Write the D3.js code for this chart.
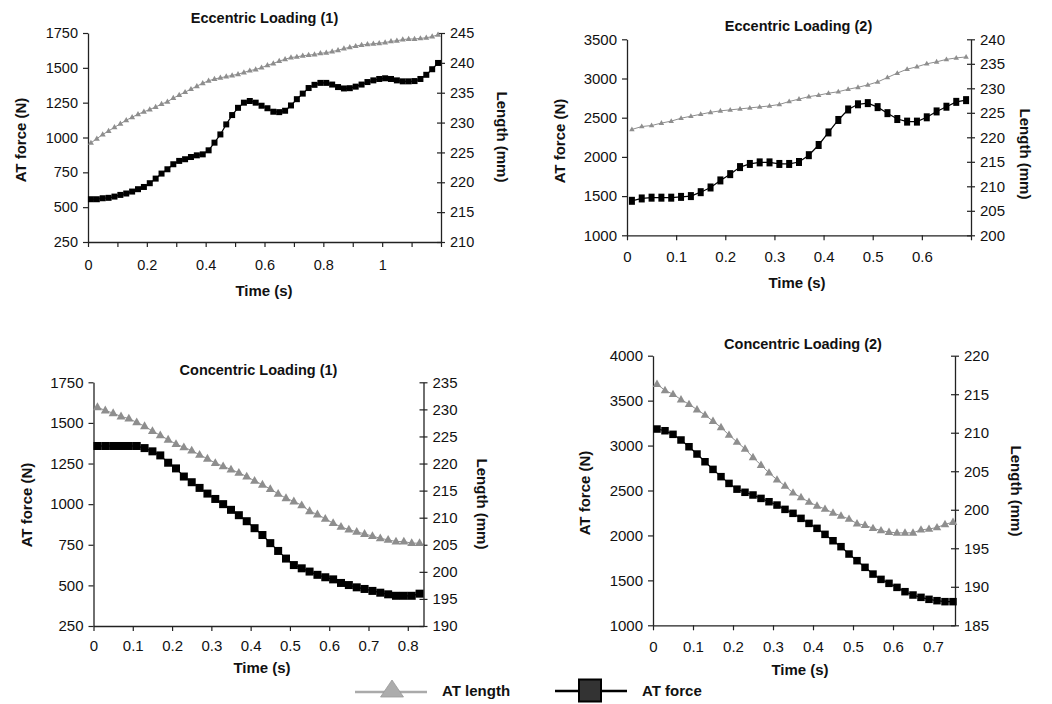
<!DOCTYPE html>
<html>
<head>
<meta charset="utf-8">
<script src="https://cdn.jsdelivr.net/npm/d3@7"></script>
<style>
  body { margin: 0; background: #fff; }
  svg text { font-family: "Liberation Sans", Arial, Helvetica, sans-serif; fill: #111; }
</style>
</head>
<body>
<svg id="fig" width="1052" height="704"></svg>
<script>
// ---- Eccentric loading (1) ----
const ecc1Time = [0.01,0.03,0.05,0.07,0.09,0.11,0.13,0.15,0.17,0.19,0.21,0.23,0.25,0.27,0.29,0.31,0.33,0.35,0.37,0.39,
  0.41,0.43,0.45,0.47,0.49,0.51,0.53,0.55,0.57,0.59,0.61,0.63,0.65,0.67,0.69,0.71,0.73,0.75,0.77,0.79,
  0.81,0.83,0.85,0.87,0.89,0.91,0.93,0.95,0.97,0.99,1.01,1.03,1.05,1.07,1.09,1.11,1.13,1.15,1.17,1.19];
const ecc1Force = [557,557,564,567,576,588,598,612,629,645,672,705,741,772,808,832,844,860,872,879,
  908,963,1022,1094,1161,1213,1250,1262,1250,1228,1210,1185,1182,1192,1230,1275,1315,1355,1378,1392,
  1392,1380,1362,1352,1354,1365,1380,1398,1410,1420,1425,1420,1410,1403,1403,1405,1420,1450,1490,1535];
const ecc1Length = [226.6,227.3,228.0,228.6,229.2,229.8,230.4,230.9,231.4,231.8,232.2,232.6,233.1,233.5,234.1,234.6,235.1,235.6,236.1,236.6,
  237.0,237.3,237.5,237.7,237.9,238.1,238.4,238.7,238.9,239.2,239.6,239.9,240.3,240.6,240.9,241.0,241.2,241.3,241.4,241.6,
  241.7,241.9,242.1,242.4,242.6,242.8,243.0,243.1,243.2,243.3,243.4,243.6,243.7,243.9,244.0,244.0,244.1,244.2,244.4,244.7];
const ecc1TimeTicks = [0,0.1,0.2,0.3,0.4,0.5,0.6,0.7,0.8,0.9,1.0,1.1,1.2];
const ecc1TimeLabels = [0,0.2,0.4,0.6,0.8,1.0];
const ecc1ForceTicks = [250,500,750,1000,1250,1500,1750];
const ecc1LengthTicks = [210,215,220,225,230,235,240,245];

// ---- Eccentric loading (2) ----
const ecc2Time = [0.01,0.03,0.05,0.07,0.09,0.11,0.13,0.15,0.17,0.19,0.21,0.23,0.25,0.27,0.29,0.31,0.33,0.35,
  0.37,0.39,0.41,0.43,0.45,0.47,0.49,0.51,0.53,0.55,0.57,0.59,0.61,0.63,0.65,0.67,0.69];
const ecc2Force = [1440,1470,1480,1480,1480,1490,1500,1550,1610,1700,1780,1870,1910,1930,1930,1910,1910,1935,
  2022,2152,2312,2471,2605,2671,2686,2635,2558,2483,2450,2450,2505,2580,2640,2702,2724];
const ecc2Length = [221.6,222.2,222.4,222.9,223.3,223.9,224.3,224.7,225.1,225.4,225.6,225.8,226.0,226.2,226.4,226.7,227.3,227.8,
  228.3,228.6,229.0,229.3,229.8,230.2,230.7,231.3,232.2,233.1,233.9,234.4,235.0,235.4,235.9,236.2,236.4];
const ecc2TimeTicks = [0,0.1,0.2,0.3,0.4,0.5,0.6,0.7];
const ecc2TimeLabels = [0,0.1,0.2,0.3,0.4,0.5,0.6];
const ecc2ForceTicks = [1000,1500,2000,2500,3000,3500];
const ecc2LengthTicks = [200,205,210,215,220,225,230,235,240];

// ---- Concentric loading (1) ----
const con1Time = [0.01,0.03,0.05,0.07,0.09,0.11,0.13,0.15,0.17,0.19,0.21,0.23,0.25,0.27,0.29,0.31,0.33,0.35,0.37,0.39,0.41,
  0.43,0.45,0.47,0.49,0.51,0.53,0.55,0.57,0.59,0.61,0.63,0.65,0.67,0.69,0.71,0.73,0.75,0.77,0.79,0.81,0.83];
const con1Force = [1358,1358,1358,1358,1358,1358,1345,1325,1300,1255,1220,1170,1135,1100,1065,1032,1000,965,932,895,852,
  810,760,712,665,625,605,585,565,550,537,515,502,488,478,466,455,445,436,436,436,449];
const con1Length = [230.4,229.8,229.3,228.7,228.3,227.6,226.9,226.0,225.2,224.4,223.6,223.0,222.4,221.6,220.9,220.1,219.5,218.9,218.3,217.6,216.8,
  216.1,215.3,214.4,213.6,213.0,212.3,211.2,210.6,209.8,209.0,208.3,207.8,207.4,207.0,206.6,206.2,205.9,205.6,205.6,205.3,205.3];
const con1TimeTicks = [0,0.1,0.2,0.3,0.4,0.5,0.6,0.7,0.8];
const con1TimeLabels = [0,0.1,0.2,0.3,0.4,0.5,0.6,0.7,0.8];
const con1ForceTicks = [250,500,750,1000,1250,1500,1750];
const con1LengthTicks = [190,195,200,205,210,215,220,225,230,235];

// ---- Concentric loading (2) ----
const con2Time = [0.01,0.03,0.05,0.07,0.09,0.11,0.13,0.15,0.17,0.19,0.21,0.23,0.25,0.27,0.29,0.31,0.33,0.35,0.37,
  0.39,0.41,0.43,0.45,0.47,0.49,0.51,0.53,0.55,0.57,0.59,0.61,0.63,0.65,0.67,0.69,0.71,0.73,0.75];
const con2Force = [3184,3165,3125,3062,2987,2906,2820,2735,2654,2579,2515,2480,2450,2412,2375,2338,2290,2246,2190,
  2134,2079,2012,1941,1875,1793,1719,1645,1570,1511,1467,1422,1374,1337,1311,1289,1274,1263,1263];
const con2Length = [216.3,215.5,215.0,214.3,213.7,213.0,212.3,211.5,210.7,209.7,208.8,207.9,206.8,205.8,204.8,203.9,203.1,202.2,201.6,
  201.0,200.5,200.1,199.6,199.2,198.8,198.2,198.0,197.6,197.3,197.1,197.0,197.0,197.0,197.4,197.5,197.7,198.1,198.4];
const con2TimeTicks = [0,0.1,0.2,0.3,0.4,0.5,0.6,0.7];
const con2TimeLabels = [0,0.1,0.2,0.3,0.4,0.5,0.6,0.7];
const con2ForceTicks = [1000,1500,2000,2500,3000,3500,4000];
const con2LengthTicks = [185,190,195,200,205,210,215,220];

const seriesNames = ["AT length", "AT force"];

// Panel layout and styling
const panels = [
  { title: "Eccentric Loading (1)", time: ecc1Time, force: ecc1Force, length: ecc1Length,
    xMax: 1.2, xTicks: ecc1TimeTicks, xLabels: ecc1TimeLabels,
    fDomain: [250, 1750], fTicks: ecc1ForceTicks, lDomain: [210, 245], lTicks: ecc1LengthTicks,
    box: { l: 88, r: 441, t: 33, b: 242 }, fs: 14.5, xPad: 13,
    titlePos: [264.5, 22.5], xLabPos: [264, 295.5], yLabPos: [21, 140], rLabPos: [502, 137],
    sq: [6, 6], tri: 6 },
  { title: "Eccentric Loading (2)", time: ecc2Time, force: ecc2Force, length: ecc2Length,
    xMax: 0.7, xTicks: ecc2TimeTicks, xLabels: ecc2TimeLabels,
    fDomain: [1000, 3500], fTicks: ecc2ForceTicks, lDomain: [200, 240], lTicks: ecc2LengthTicks,
    box: { l: 627, r: 971, t: 39.3, b: 235.3 }, fs: 15, xPad: 11.5,
    titlePos: [798.5, 30.5], xLabPos: [797, 288], yLabPos: [560, 141], rLabPos: [1025, 154],
    sq: [6, 8], tri: 5.5 },
  { title: "Concentric Loading (1)", time: con1Time, force: con1Force, length: con1Length,
    xMax: 0.84, xTicks: con1TimeTicks, xLabels: con1TimeLabels,
    fDomain: [250, 1750], fTicks: con1ForceTicks, lDomain: [190, 235], lTicks: con1LengthTicks,
    box: { l: 93.5, r: 423.5, t: 382.3, b: 626 }, fs: 15, xPad: 9.5,
    titlePos: [258.5, 374.5], xLabPos: [262, 673], yLabPos: [27, 505], rLabPos: [482, 504],
    sq: [8, 8], tri: 9 },
  { title: "Concentric Loading (2)", time: con2Time, force: con2Force, length: con2Length,
    xMax: 0.755, xTicks: con2TimeTicks, xLabels: con2TimeLabels,
    fDomain: [1000, 4000], fTicks: con2ForceTicks, lDomain: [185, 220], lTicks: con2LengthTicks,
    box: { l: 653, r: 955, t: 355.7, b: 625.3 }, fs: 15, xPad: 11.5,
    titlePos: [803, 348.7], xLabPos: [800, 675], yLabPos: [585, 493], rLabPos: [1016, 491],
    sq: [7.5, 7.5], tri: 8.5 }
];

const svg = d3.select("#fig");
const axisColor = "#222";
const lengthGrey = "#8e8e8e";
const fmtTime = d => String(+d.toFixed(1));
const inList = (list, d) => list.some(v => Math.abs(v - d) < 1e-9);

function styleAxis(g, fs) {
  g.attr("font-size", null).attr("font-family", null);
  g.select(".domain").attr("stroke", axisColor).attr("stroke-width", 1.3);
  g.selectAll(".tick line").attr("stroke", axisColor).attr("stroke-width", 1.2);
  g.selectAll(".tick text").style("font-size", fs + "px").attr("fill", "#111");
}

function triPath(w) {
  const h = w * 0.87;
  return `M0,${-h * 0.62}L${w / 2},${h * 0.38}L${-w / 2},${h * 0.38}Z`;
}

panels.forEach(p => {
  const g = svg.append("g");
  const x = d3.scaleLinear().domain([0, p.xMax]).range([p.box.l, p.box.r]);
  const yF = d3.scaleLinear().domain(p.fDomain).range([p.box.b, p.box.t]);
  const yL = d3.scaleLinear().domain(p.lDomain).range([p.box.b, p.box.t]);

  // time axis
  const gx = g.append("g").attr("transform", `translate(0,${p.box.b})`)
    .call(d3.axisBottom(x).tickValues(p.xTicks)
      .tickFormat(d => inList(p.xLabels, d) ? fmtTime(d) : "")
      .tickSize(5).tickSizeOuter(0).tickPadding(p.xPad));
  styleAxis(gx, p.fs);

  // force axis (left)
  const gl = g.append("g").attr("transform", `translate(${p.box.l},0)`)
    .call(d3.axisLeft(yF).tickValues(p.fTicks).tickFormat(d3.format("d"))
      .tickSize(5).tickSizeOuter(0).tickPadding(5));
  styleAxis(gl, p.fs);

  // length axis (right), ticks crossing the line
  const gr = g.append("g").attr("transform", `translate(${p.box.r},0)`)
    .call(d3.axisRight(yL).tickValues(p.lTicks).tickFormat(d3.format("d"))
      .tickSize(4).tickSizeOuter(0).tickPadding(5));
  styleAxis(gr, p.fs);
  gr.selectAll(".tick line").attr("x1", -4).attr("x2", 4);

  // titles
  g.append("text").attr("x", p.titlePos[0]).attr("y", p.titlePos[1])
    .attr("text-anchor", "middle").attr("font-weight", "bold").style("font-size", "14.5px").text(p.title);
  g.append("text").attr("x", p.xLabPos[0]).attr("y", p.xLabPos[1])
    .attr("text-anchor", "middle").attr("font-weight", "bold").style("font-size", "15px").text("Time (s)");
  g.append("text").attr("transform", `translate(${p.yLabPos[0]},${p.yLabPos[1]}) rotate(-90)`)
    .attr("text-anchor", "middle").attr("dy", "0.35em").attr("font-weight", "bold").style("font-size", "15px")
    .text("AT force (N)");
  g.append("text").attr("transform", `translate(${p.rLabPos[0]},${p.rLabPos[1]}) rotate(90)`)
    .attr("text-anchor", "middle").attr("dy", "0.35em").attr("font-weight", "bold").style("font-size", "15px")
    .text("Length (mm)");

  // length series
  const lenPts = p.time.map((t, i) => [t, p.length[i]]);
  g.append("path").datum(lenPts)
    .attr("fill", "none").attr("stroke", lengthGrey).attr("stroke-width", 1)
    .attr("d", d3.line().x(d => x(d[0])).y(d => yL(d[1])));
  g.selectAll(".tri").data(lenPts).join("path")
    .attr("transform", d => `translate(${x(d[0])},${yL(d[1])})`)
    .attr("d", triPath(p.tri)).attr("fill", lengthGrey);

  // force series
  const fPts = p.time.map((t, i) => [t, p.force[i]]);
  g.append("path").datum(fPts)
    .attr("fill", "none").attr("stroke", "#000").attr("stroke-width", 1.2)
    .attr("d", d3.line().x(d => x(d[0])).y(d => yF(d[1])));
  g.selectAll(".sq").data(fPts).join("rect")
    .attr("x", d => x(d[0]) - p.sq[0] / 2).attr("y", d => yF(d[1]) - p.sq[1] / 2)
    .attr("width", p.sq[0]).attr("height", p.sq[1]).attr("fill", "#000");
});

// legend
const lg = svg.append("g");
lg.append("line").attr("x1", 355).attr("x2", 427).attr("y1", 692).attr("y2", 692)
  .attr("stroke", "#aaa").attr("stroke-width", 2.5);
lg.append("path").attr("d", "M392,680L403.5,697L380.5,697Z").attr("fill", "#acacac").attr("stroke", "#999").attr("stroke-width", 0.8);
lg.append("text").attr("x", 442).attr("y", 696).attr("font-weight", "bold").style("font-size", "15px").text(seriesNames[0]);
lg.append("line").attr("x1", 555).attr("x2", 627).attr("y1", 691).attr("y2", 691)
  .attr("stroke", "#000").attr("stroke-width", 2.5);
lg.append("rect").attr("x", 579).attr("y", 679.5).attr("width", 22).attr("height", 22)
  .attr("fill", "#333").attr("stroke", "#000").attr("stroke-width", 2);
lg.append("text").attr("x", 642).attr("y", 696).attr("font-weight", "bold").style("font-size", "15px").text(seriesNames[1]);
</script>
</body>
</html>
